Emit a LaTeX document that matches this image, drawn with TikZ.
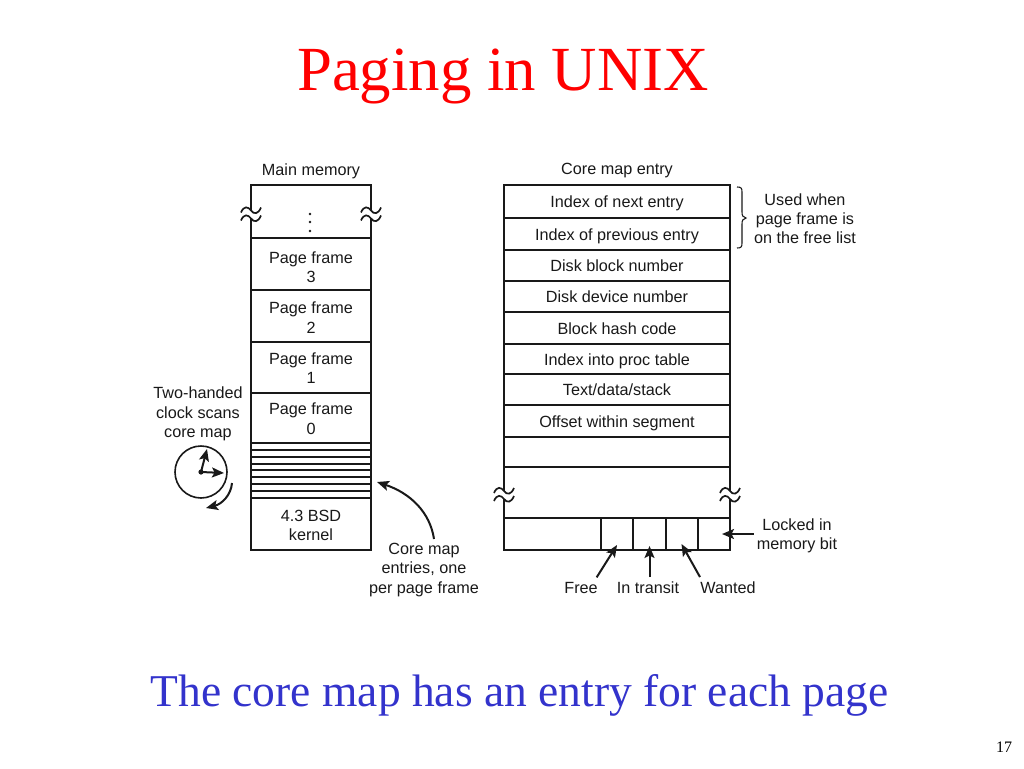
\documentclass[tikz,border=0pt]{standalone}
\usepackage{fontspec}
\setmainfont{Liberation Serif}
\setsansfont{Liberation Sans}
\usetikzlibrary{arrows.meta,decorations.pathreplacing}
\definecolor{subblue}{RGB}{51,51,204}
\definecolor{ink}{RGB}{25,25,25}
\newcommand\twolines[3]{\raisebox{-#3pt}[0pt][0pt]{\begin{tabular}{@{}c@{}}#1\\#2\end{tabular}}}
\tikzset{
  x=1pt,y=-1pt,
  cell/.style={draw=ink,line width=1.6pt,anchor=north west,inner sep=0pt,outer sep=0pt,align=center,
    font=\sffamily\fontsize{16.2}{19.2}\selectfont,text=ink},
  memcell/.style={cell,minimum width=120pt},
  corecell/.style={cell,minimum width=226pt,text height=14pt,text depth=2pt},
  bitcell/.style={cell,minimum height=32pt},
  stripe/.style={draw=ink,line width=1.3pt},
  label/.style={align=center,inner sep=0pt,outer sep=0pt,text=ink,
    font=\sffamily\fontsize{16.2}{19.2}\selectfont},
  tiparrow/.style={draw=ink,line width=2pt,-{Stealth[length=12pt,width=10pt,inset=2.5pt]}},
  breakmark/.pic={
    \fill[white] (-10,-3) .. controls (-7,-10) and (-3,-9) .. (0,-5) .. controls (3,-1) and (7,-1) .. (10,-8)
      -- (10,0) .. controls (7,7) and (3,7) .. (0,3) .. controls (-3,-1) and (-7,-2) .. (-10,5) -- cycle;
    \draw[ink,line width=1.7pt] (-10,-3) .. controls (-7,-10) and (-3,-9) .. (0,-5) .. controls (3,-1) and (7,-1) .. (10,-8);
    \draw[ink,line width=1.7pt] (-10,5) .. controls (-7,-2) and (-3,-1) .. (0,3) .. controls (3,7) and (7,7) .. (10,0);
  }
}
\begin{document}
\begin{tikzpicture}
\useasboundingbox (0,0) rectangle (1024,768);
\fill[white] (0,0) rectangle (1024,768);

\node[text=red,font=\fontsize{62.8}{70}\selectfont,inner sep=0pt] (title) at (503,76) {Paging in UNIX};
\node[text=subblue,font=\fontsize{45.5}{52}\selectfont,inner sep=0pt] (subtitle) at (519.5,695) {The core map has an entry for each page};
\node[text=black,font=\fontsize{16}{19}\selectfont,inner sep=0pt] (pageno) at (1004,747) {17};

% main memory
\node[label] (mmtitle) at (311,171) {Main memory};
\node[memcell,minimum height=53pt] (mtop) at (251,185) {};
\node[memcell,minimum height=52pt] (pf3) at (251,238) {\twolines{Page frame}{3}{9.5}};
\node[memcell,minimum height=52pt] (pf2) at (251,290) {\twolines{Page frame}{2}{8}};
\node[memcell,minimum height=51pt] (pf1) at (251,342) {\twolines{Page frame}{1}{7}};
\node[memcell,minimum height=50pt] (pf0) at (251,393) {\twolines{Page frame}{0}{7}};
\node[memcell,minimum height=55pt] (cmap) at (251,443) {};
\node[memcell,minimum height=52pt] (kernel) at (251,498) {\twolines{4.3 BSD}{kernel}{7.5}};
\foreach \yy in {450,457,464,470,477,484,491} \draw[stripe] (251,\yy) -- (371,\yy);
\fill[ink] (310,214) circle (1.3) (310,222) circle (1.3) (310,231) circle (1.3);
\pic at (251,215.5) {breakmark};
\pic at (371,215.5) {breakmark};

% clock
\node[label] (clocktxt) at (198,414) {Two-handed\\clock scans\\core map};
\node[draw=ink,line width=1.6pt,circle,minimum size=52pt,inner sep=0pt,outer sep=0pt] (clock) at (201,472) {};
\coordinate (hand1) at (207,449);
\coordinate (hand2) at (224,473);
\draw[tiparrow] (clock.center) -- (hand1);
\draw[tiparrow] (clock.center) -- (hand2);
\fill[ink] (clock.center) circle (2.6);
\coordinate (rota) at (232,483);
\coordinate (rotb) at (206,508);
\draw[tiparrow] (rota) .. controls (231,495) and (222,504) .. (rotb);

% core map label
\node[label] (cmlabel) at (424,570) {Core map\\entries, one\\per page frame};
\coordinate (cmtip) at (377,482);
\coordinate (cmstart) at (434,539);
\draw[tiparrow] (cmstart) .. controls (430,512) and (410,493) .. (cmtip);

% core map entry
\node[label] (cetitle) at (617,171) {Core map entry};
\node[corecell,minimum height=33pt] (e1) at (504,185) {Index of next entry};
\node[corecell,minimum height=32pt] (e2) at (504,218) {Index of previous entry};
\node[corecell,minimum height=31pt] (e3) at (504,250) {Disk block number};
\node[corecell,minimum height=31pt] (e4) at (504,281) {Disk device number};
\node[corecell,minimum height=32pt] (e5) at (504,312) {Block hash code};
\node[corecell,minimum height=30pt] (e6) at (504,344) {Index into proc table};
\node[corecell,minimum height=31pt] (e7) at (504,374) {Text/data/stack};
\node[corecell,minimum height=32pt] (e8) at (504,405) {Offset within segment};
\node[corecell,minimum height=30pt] (e9) at (504,437) {};
\node[corecell,minimum height=51pt] (e10) at (504,467) {};
\node[cell,minimum width=97pt,minimum height=32pt] (bit0) at (504,518) {};
\node[bitcell,minimum width=32pt] (bfree) at (601,518) {};
\node[bitcell,minimum width=33pt] (btrans) at (633,518) {};
\node[bitcell,minimum width=32pt] (bwant) at (666,518) {};
\node[bitcell,minimum width=32pt] (block) at (698,518) {};
\pic at (504,496) {breakmark};
\pic at (730,496) {breakmark};

% used-when brace
\draw[ink,line width=1.1pt] (737,187) .. controls (741,187) and (742,188) .. (742,192) -- (742,212)
  .. controls (742,216) and (743,217) .. (746,218) .. controls (743,219) and (742,220) .. (742,224)
  -- (742,243) .. controls (742,247) and (741,248) .. (737,248);
\node[label] (used) at (805,219) {Used when\\page frame is\\on the free list};

% bit labels
\node[label] (lfree) at (581,588) {Free};
\node[label] (ltrans) at (648,588) {In transit};
\node[label] (lwant) at (728,588) {Wanted};
\node[label] (llock) at (797,536) {Locked in\\memory bit};
\draw[tiparrow] ([xshift=-1pt,yshift=5pt]lfree.north east) -- ([yshift=5pt]bfree.south);
\draw[tiparrow] ([yshift=5pt]btrans.south |- ltrans.north) -- ([yshift=4pt]btrans.south);
\draw[tiparrow] ([xshift=-28pt,yshift=5pt]lwant.north) -- ([xshift=-0.5pt,yshift=6pt]bwant.south);
\draw[tiparrow] ([xshift=-3pt]llock.west |- block.center) -- ([xshift=8pt]block.center);
\end{tikzpicture}
\end{document}
